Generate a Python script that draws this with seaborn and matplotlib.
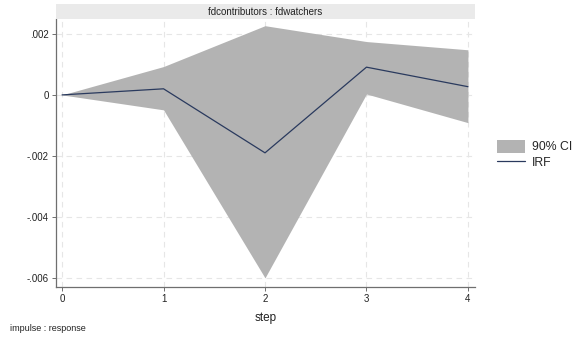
import matplotlib
matplotlib.use("Agg")
import matplotlib.pyplot as plt
import seaborn as sns
import pandas as pd
from matplotlib.patches import Patch, Rectangle
from matplotlib.lines import Line2D

step = [0, 1, 2, 3, 4]
irf = [0.0, 0.0002, -0.0019, 0.00091, 0.00027]
ci_lower = [0.0, -0.00049, -0.0060, 0.00003, -0.00091]
ci_upper = [0.0, 0.00093, 0.00227, 0.00175, 0.00148]
yticks = [0.002, 0.0, -0.002, -0.004, -0.006]
ytick_labels = [".002", "0", "-.002", "-.004", "-.006"]
panel_title = "fdcontributors : fdwatchers"

df = pd.DataFrame({"step": step, "irf": irf, "lo": ci_lower, "hi": ci_upper})

sns.set_theme(style="white")
plt.rcParams['font.family'] = ['Liberation Sans', 'DejaVu Sans']

line_color = "#2a3a5e"

fig = plt.figure(figsize=(5.76, 3.39), dpi=100)
ax = fig.add_axes([0.0972, 0.1534, 0.7275, 0.7906])

ax.fill_between(df["step"], df["lo"], df["hi"], color="#b3b3b3", linewidth=0, zorder=2)
sns.lineplot(data=df, x="step", y="irf", ax=ax, color=line_color, linewidth=0.9, zorder=3)

ax.set_xlim(-0.06, 4.07)
ax.set_ylim(-0.0063, 0.00249)
ax.set_xticks(step)
ax.set_xticklabels([str(s) for s in step], fontsize=7)
ax.set_yticks(yticks)
ax.set_yticklabels(ytick_labels, fontsize=7)

for x in step:
    ax.axvline(x, color="#e6e6e6", linestyle=(0, (5, 4)), linewidth=0.8, zorder=1)
for y in yticks:
    ax.axhline(y, color="#e6e6e6", linestyle=(0, (5, 4)), linewidth=0.8, zorder=1)

for s in ["top", "right"]:
    ax.spines[s].set_visible(False)
for s in ["left", "bottom"]:
    ax.spines[s].set_color("#6f6f6f")
    ax.spines[s].set_linewidth(0.9)
ax.tick_params(axis="both", which="both", direction="out", length=3, width=0.7,
               color="#6f6f6f", pad=2, left=True, bottom=True, labelcolor="#222222")

ax.set_xlabel("step", fontsize=8.5, labelpad=6, color="#222222")
ax.set_ylabel("")

# panel strip
fig.patches.append(Rectangle((0.0972, 0.944), 0.7275, 0.044, transform=fig.transFigure,
                             facecolor="#eaeaea", edgecolor="none"))
fig.text(0.0972 + 0.7275 / 2, 0.966, panel_title, ha="center", va="center",
         fontsize=7, color="#222222")

handles = [Patch(facecolor="#b3b3b3", edgecolor="none", label="90% CI"),
           Line2D([0], [0], color=line_color, linewidth=0.9, label="IRF")]
fig.legend(handles=handles, loc="center left", bbox_to_anchor=(0.855, 0.545),
           frameon=False, fontsize=8.8, handlelength=2.3, handleheight=1.3,
           handletextpad=0.55, labelspacing=0.15, borderaxespad=0)

fig.text(0.017, 0.03, "impulse : response", fontsize=6.5, color="#222222", ha="left", va="center")

fig.savefig("out.png", dpi=100)
